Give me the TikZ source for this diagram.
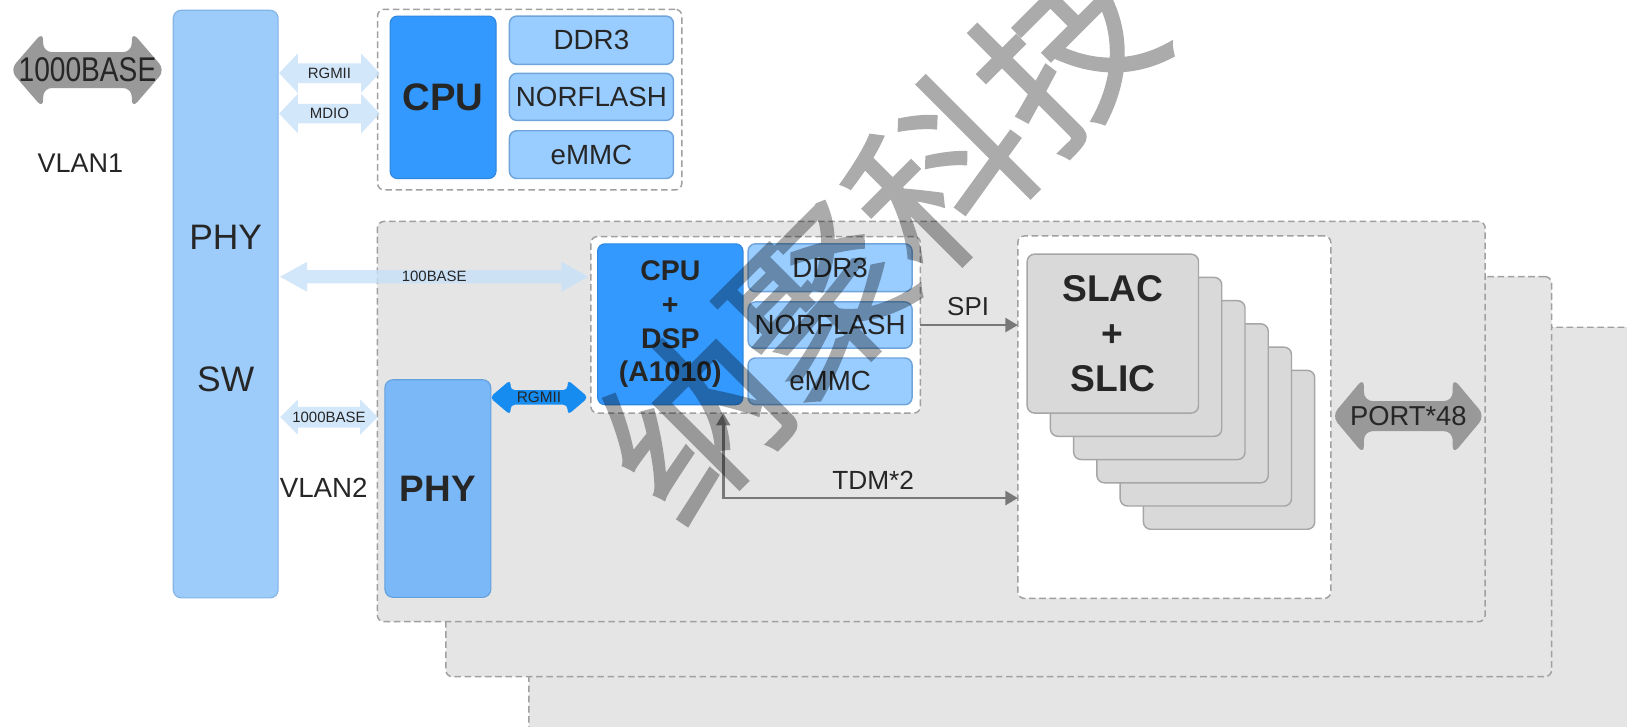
\documentclass[tikz,border=0pt]{standalone}
\usepackage{graphicx}
\usepackage{fontspec}
\setmainfont{Liberation Sans}
\newfontfamily\wmfont[FakeBold=1.2]{Noto Sans CJK SC}
\usetikzlibrary{arrows.meta}

\definecolor{txt}{RGB}{38,38,38}
\definecolor{barblue}{RGB}{157,203,250}
\definecolor{baredge}{RGB}{130,180,230}
\definecolor{memblue}{RGB}{153,204,255}
\definecolor{memedge}{RGB}{112,165,220}
\definecolor{cpublue}{RGB}{51,153,255}
\definecolor{cpuedge}{RGB}{45,135,225}
\definecolor{phyblue}{RGB}{122,184,247}
\definecolor{phyedge}{RGB}{100,160,220}
\definecolor{linkblue}{RGB}{22,140,240}
\definecolor{lightlink}{RGB}{200,225,250}
\definecolor{panelgray}{RGB}{229,229,229}
\definecolor{dashgray}{RGB}{160,160,160}
\definecolor{chipgray}{RGB}{217,217,217}
\definecolor{chipedge}{RGB}{166,166,166}
\definecolor{portgray}{RGB}{153,153,153}
\definecolor{wire}{RGB}{120,120,120}

\newcommand{\fsz}[1]{\fontsize{#1}{#1}\selectfont}

% rectangular block given by its corners: \blk[style]{name}{x1}{y1}{x2}{y2}{text}
\newcommand{\blk}[7][]{%
  \node[#1, inner sep=0pt, outer sep=0pt,
        minimum width={((#5)-(#3))*0.1mm}, minimum height={((#6)-(#4))*0.1mm}]
        (#2) at ({((#3)+(#5))/2},{((#4)+(#6))/2}) {#7};}

% two-headed block arrow: \barrow{style}{name}{xl}{xr}{yc}{shaft}{head}{headlen}{text}
\newcommand{\barrow}[9]{%
  \path[#1] (#3,#5) -- (#3+#8,#5-#7) -- (#3+#8,#5-#6) -- (#4-#8,#5-#6)
     -- (#4-#8,#5-#7) -- (#4,#5) -- (#4-#8,#5+#7) -- (#4-#8,#5+#6)
     -- (#3+#8,#5+#6) -- (#3+#8,#5+#7) -- cycle;
  \node[text=txt, inner sep=0pt] (#2) at ({(#3+#4)/2},#5) {#9};}

\tikzset{
  dashedge/.style={draw=dashgray, line width=0.4pt, dash pattern=on 1.8pt off 1pt},
  panel/.style={dashedge, fill=panelgray, rounded corners=1.8pt},
  wrapbox/.style={dashedge, fill=white, rounded corners=1.8pt},
  membox/.style={fill=memblue, draw=memedge, line width=0.4pt, rounded corners=2pt,
                 text=txt, font=\fsz{7.6}},
  cpubox/.style={fill=cpublue, draw=cpuedge, line width=0.3pt, rounded corners=2pt,
                 text=txt, font=\bfseries\fsz{10.5}},
  chip/.style={fill=chipgray, draw=chipedge, line width=0.4pt, rounded corners=2pt},
  grayarrow/.style={fill=portgray, rounded corners=2.4pt},
  lightarrow/.style={fill=lightlink, fill opacity=0.8},
  bluearrow/.style={fill=linkblue, rounded corners=1.2pt},
  wirearrow/.style={draw=wire, line width=0.75pt,
                    arrows={-Triangle[length=3.4pt,width=3.8pt]}},
  label/.style={text=txt, inner sep=0pt}
}

\begin{document}
\begin{tikzpicture}[x=0.01cm, y=-0.01cm]
\clip (0,0) rectangle (1568,699.7);
\fill[white] (0,0) rectangle (1568,699.7);

% stacked line boards
\blk[panel]{boardC}{510}{315.5}{1660}{780}{}
\blk[panel]{boardB}{430}{266.7}{1495}{652}{}
\blk[panel]{boardA}{364}{213.5}{1431}{599}{}

% main switch
\blk[fill=barblue, draw=baredge, line width=0.3pt, rounded corners=2.2pt]{sw}{167}{10}{268}{576}{}
\node[label, font=\fsz{9.7}] (swphy) at (217.5,229) {PHY};
\node[label, font=\fsz{9.7}] (swcore) at (217.5,366) {SW};
\node[label, font=\fsz{7.4}] (vlanA) at (77.5,157) {VLAN1};
\node[label, font=\fsz{7.6}] (vlanB) at (312,470) {VLAN2};

% management CPU
\blk[wrapbox]{mgmt}{364}{9}{657}{183}{}
\blk[cpubox]{cpuA}{376}{15.5}{478}{172}{CPU}
\blk[membox]{ddrA}{491}{15.5}{649}{62}{DDR3}
\blk[membox]{norA}{491}{70.7}{649}{116}{NORFLASH}
\blk[membox]{emmcA}{491}{126}{649}{172}{eMMC}

% voice board: processor
\blk[wrapbox]{dspwrap}{569.5}{228}{887}{398}{}
\blk[cpubox, align=center, font=\bfseries\fontsize{7.8}{9.2}\selectfont]{dsp}{576}{235}{716}{390}{CPU\\+\\DSP\\(A1010)}
\blk[membox]{ddrB}{721}{235}{879}{281}{DDR3}
\blk[membox]{norB}{721}{291}{879}{335.5}{NORFLASH}
\blk[membox]{emmcB}{721}{345}{879}{390}{eMMC}

% voice board: line interface chips
\blk[wrapbox]{slacwrap}{981}{227.5}{1282.5}{576.6}{}
\foreach \i in {5,4,...,1}{
  \blk[chip]{slac\i}{990+22.4*\i}{245+22.4*\i}{1155+22.4*\i}{398+22.4*\i}{}
}
\blk[chip, align=center, text=txt, font=\bfseries\fontsize{10.2}{12.4}\selectfont]{slac0}{990}{245}{1155}{398}{SLAC\\+\\SLIC}

% voice board: PHY
\blk[fill=phyblue, draw=phyedge, line width=0.3pt, rounded corners=2.2pt,
     text=txt, font=\bfseries\fsz{10.1}]{phyB}{371}{366}{473}{575.6}{PHY}

% block arrows
\barrow{grayarrow}{uplink}{9.6}{159}{67.5}{17.3}{37}{32}{\scalebox{0.82}[1]{\fsz{9.4}1000BASE}}
\barrow{grayarrow}{ports}{1283.5}{1431}{401}{14.5}{37}{31}{\fsz{7.5}PORT*48}
\barrow{lightarrow}{rgmiiA}{269}{366}{70.5}{9.5}{19}{18}{\fsz{4.1}RGMII}
\barrow{lightarrow}{mdio}{269}{366}{109.5}{9.5}{19}{18}{\fsz{4.1}MDIO}
\barrow{lightarrow}{fastlink}{270}{567}{266.7}{6.5}{14.5}{26}{\fsz{4.1}100BASE}
\barrow{lightarrow}{giglink}{270}{364}{402}{10}{17}{17}{\fsz{4.1}1000BASE}
\barrow{bluearrow}{rgmiiB}{472}{567}{383}{7}{17}{20}{\fsz{4.2}RGMII}

% control and voice buses
\draw[wirearrow] (dspwrap.east |- norB) -- (slacwrap.west |- norB);
\node[label, font=\fsz{7.1}] (spi) at (933,295) {SPI};
\coordinate (tdmturn) at (697,480);
\draw[wirearrow, arrows={Triangle[length=3.4pt,width=3.8pt]-Triangle[length=3.4pt,width=3.8pt]}]
  (dspwrap.south -| tdmturn) -- (tdmturn) -- (slacwrap.west |- tdmturn);
\node[label, font=\fsz{7.2}] (tdm) at (841.5,462.5) {TDM*2};

% watermark, flattened before it is made translucent
\begin{scope}[transparency group, opacity=0.33]
\node[font=\wmfont\fsz{48}, text=black, rotate=45, inner sep=0pt]
  (mark) at (848,228) {纳聚科技};
\end{scope}
\end{tikzpicture}
\end{document}
